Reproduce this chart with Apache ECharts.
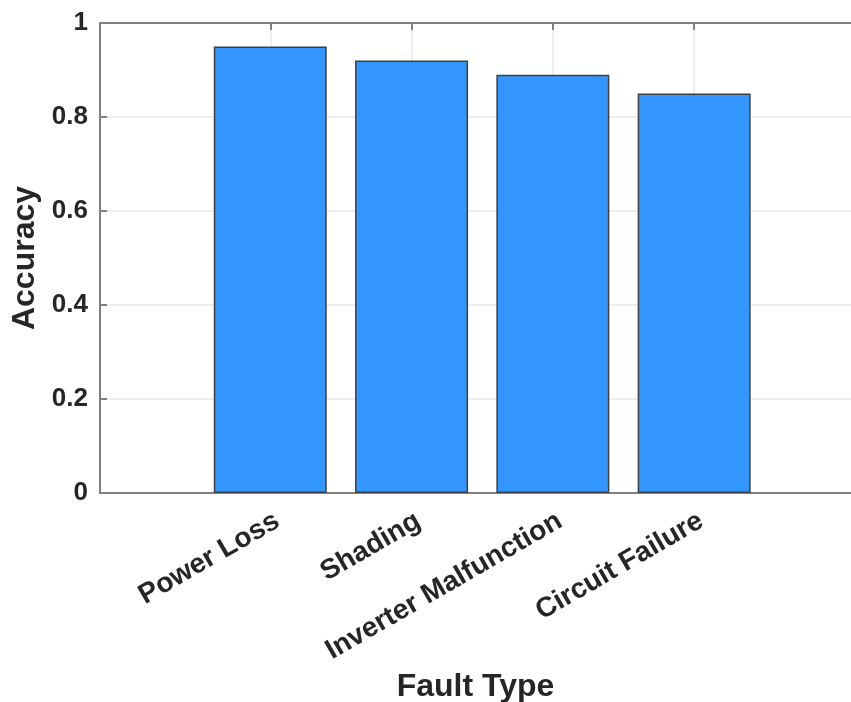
<!DOCTYPE html>
<html><head><meta charset="utf-8">
<script src="https://cdn.jsdelivr.net/npm/echarts@6/dist/echarts.min.js"></script>
<style>html,body{margin:0;padding:0;background:#fff}#c{width:851px;height:702px}</style>
</head><body><div id="c"></div>
<script>
const categories = ["Power Loss", "Shading", "Inverter Malfunction", "Circuit Failure"];
const positions = [1, 2, 3, 4];
const accuracy = [0.95, 0.92, 0.89, 0.85];
const yTicks = [0, 0.2, 0.4, 0.6, 0.8, 1];

const FONT = '"Liberation Sans", Arial, Helvetica, sans-serif';
const AXC = '#808080';
const TXT = '#262626';
const chart = echarts.init(document.getElementById('c'));
const data = positions.map((p, i) => [p, accuracy[i]]);
chart.setOption({
  animation: false,
  backgroundColor: '#fff',
  grid: { left: 100, top: 23, right: 0, bottom: 209, containLabel: false, outerBoundsMode: 'none' },
  xAxis: [{
    type: 'value', min: -0.205, max: 5.11, position: 'bottom',
    name: 'Fault Type', nameLocation: 'middle', nameGap: 174,
    nameTextStyle: { fontFamily: FONT, fontWeight: 'bold', fontSize: 32, color: TXT },
    axisLine: { show: true, onZero: false, lineStyle: { color: AXC, width: 2 } },
    axisTick: { show: true, inside: true, length: 7, customValues: positions, lineStyle: { color: AXC, width: 2 } },
    axisLabel: { show: true, customValues: positions, rotate: 30, margin: 14, verticalAlign: 'top',
      fontFamily: FONT, fontWeight: 'bold', fontSize: 28, color: TXT,
      formatter: v => categories[Math.round(v) - 1] || '' },
    splitLine: { show: true, lineStyle: { color: '#e8e8e8', width: 1.5 } }
  }, {
    type: 'value', min: -0.205, max: 5.11, position: 'top',
    axisLine: { show: true, onZero: false, lineStyle: { color: AXC, width: 2 } },
    axisTick: { show: true, inside: true, length: 7, customValues: positions, lineStyle: { color: AXC, width: 2 } },
    axisLabel: { show: false },
    splitLine: { show: false }
  }],
  yAxis: {
    type: 'value', min: 0, max: 1, interval: 0.2,
    name: 'Accuracy', nameLocation: 'middle', nameGap: 55, nameRotate: 90,
    nameTextStyle: { fontFamily: FONT, fontWeight: 'bold', fontSize: 32, color: TXT },
    axisLine: { show: true, onZero: false, lineStyle: { color: AXC, width: 2 } },
    axisTick: { show: true, inside: true, length: 7, lineStyle: { color: AXC, width: 2 } },
    axisLabel: { margin: 12, fontFamily: FONT, fontWeight: 'bold', fontSize: 26, color: TXT,
      formatter: v => String(Math.round(v * 10) / 10) },
    splitLine: { show: true, lineStyle: { color: '#e8e8e8', width: 1.5 } }
  },
  series: [{
    type: 'bar', data: data, barWidth: 113, xAxisIndex: 0,
    itemStyle: { color: '#3396ff', borderColor: '#404040', borderWidth: 1.5 }
  }]
});
</script></body></html>
